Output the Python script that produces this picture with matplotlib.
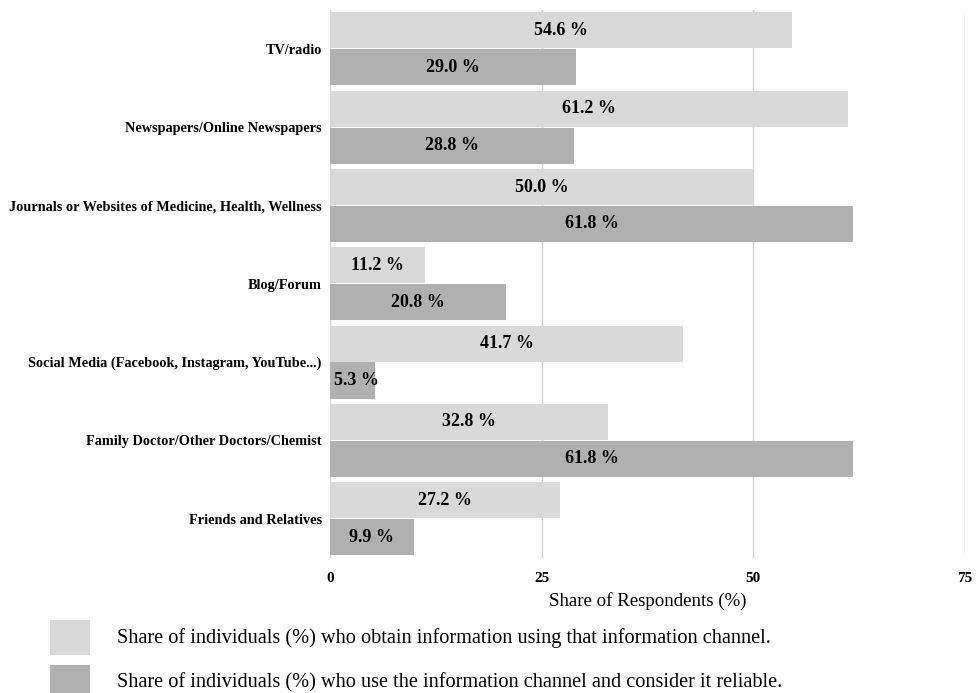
import numpy as np
import matplotlib.pyplot as plt
from matplotlib.patches import Rectangle

plt.rcParams['font.family'] = ['Liberation Serif', 'DejaVu Serif']

categories = ["TV/radio", "Newspapers/Online Newspapers",
              "Journals or Websites of Medicine, Health, Wellness",
              "Blog/Forum", "Social Media (Facebook, Instagram, YouTube...)",
              "Family Doctor/Other Doctors/Chemist", "Friends and Relatives"]
obtain = [54.6, 61.2, 50.0, 11.2, 41.7, 32.8, 27.2]
reliable = [29.0, 28.8, 61.8, 20.8, 5.3, 61.8, 9.9]
legend_labels = ["Share of individuals (%) who obtain information using that information channel.",
                 "Share of individuals (%) who use the information channel and consider it reliable."]

c_light = '#d9d9d9'
c_dark = '#b0b0b0'

fig = plt.figure(figsize=(9.77, 6.93), dpi=100)
ax = fig.add_axes([0.3378, 0.195, 0.65, 0.791])

y = np.arange(len(categories))
h = 0.46
b1 = ax.barh(y - 0.235, obtain, height=h, color=c_light, zorder=2)
b2 = ax.barh(y + 0.235, reliable, height=h, color=c_dark, zorder=2)

for bars, vals in ((b1, obtain), (b2, reliable)):
    for bar, v in zip(bars, vals):
        cx = max(v / 2, 3.1)
        ax.text(cx, bar.get_y() + bar.get_height() / 2, f"{v:.1f} %",
                ha='center', va='center', fontsize=13, fontweight='bold', zorder=3)

ax.set_xlim(0, 75)
ax.set_ylim(6.5, -0.5)
ax.set_xticks([0, 25, 50, 75])
ax.set_xticklabels(['0', '25', '50', '75'], fontsize=11, fontweight='bold')
ax.set_yticks(y)
ax.set_yticklabels(categories, fontsize=10.3, fontweight='bold')
ax.tick_params(length=0, pad=6)
ax.tick_params(axis='x', pad=10)
ax.xaxis.grid(True, color='#d0d0d0', linewidth=1, zorder=0)
for s in ax.spines.values():
    s.set_visible(False)
ax.set_xlabel("Share of Respondents (%)", fontsize=13.6, labelpad=5)

# legend
for i, (col, lab) in enumerate(zip([c_light, c_dark], legend_labels)):
    yy = 0.055 - i * 0.065
    fig.patches.append(Rectangle((0.051, yy), 0.041, 0.05, transform=fig.transFigure,
                                 facecolor=col, edgecolor='none'))
    fig.text(0.12, yy + 0.025, lab, fontsize=14.6, va='center', ha='left')

fig.savefig('out.png', dpi=100)
